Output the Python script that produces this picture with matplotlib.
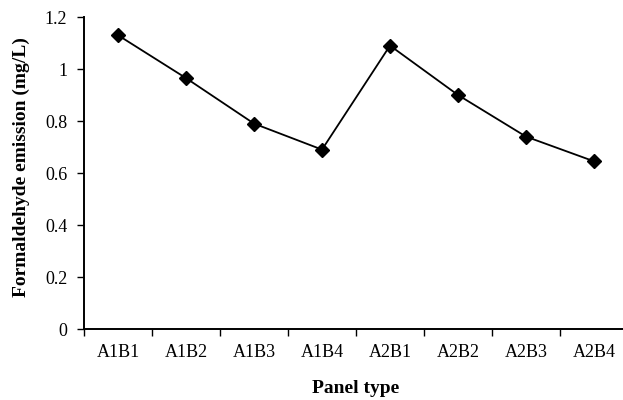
import numpy as np
import matplotlib.pyplot as plt
from matplotlib.ticker import FixedLocator, NullFormatter

# Data
panels = ["A1B1", "A1B2", "A1B3", "A1B4", "A2B1", "A2B2", "A2B3", "A2B4"]
emission = [1.13, 0.965, 0.79, 0.69, 1.09, 0.90, 0.74, 0.645]
yticks = [0, 0.2, 0.4, 0.6, 0.8, 1.0, 1.2]
ytick_labels = ["0", "0.2", "0.4", "0.6", "0.8", "1", "1.2"]

plt.rcParams["font.family"] = ["Liberation Serif", "DejaVu Serif"]

fig = plt.figure(figsize=(6.23, 4.0), dpi=100)
ax = fig.add_axes([84 / 623, 71 / 400, 544 / 623, 312 / 400])

x = np.arange(len(panels))
ax.plot(x, emission, color="black", linewidth=1.3, marker="D",
        markersize=7.5, markerfacecolor="black", markeredgecolor="black")

ax.set_xlim(-0.5, len(panels) - 0.5)
ax.set_ylim(0, 1.2)

# category labels centred, tick marks on the boundaries
ax.set_xticks(x)
ax.set_xticklabels(panels, fontsize=13)
ax.tick_params(axis="x", which="major", length=0, pad=11)
ax.xaxis.set_minor_locator(FixedLocator(np.arange(-0.5, len(panels), 1.0)))
ax.xaxis.set_minor_formatter(NullFormatter())
ax.tick_params(axis="x", which="minor", length=5, width=1, direction="out")

ax.set_yticks(yticks)
ax.set_yticklabels(ytick_labels, fontsize=13)
ax.tick_params(axis="y", length=5, width=1, direction="out", pad=7)

for side in ["top", "right"]:
    ax.spines[side].set_visible(False)
ax.spines["left"].set_linewidth(1.4)
ax.spines["bottom"].set_linewidth(1.4)

ax.set_xlabel("Panel type", fontsize=14, fontweight="bold")
ax.set_ylabel("Formaldehyde emission (mg/L)", fontsize=14, fontweight="bold")
ax.xaxis.set_label_coords(0.5, -0.163)
ax.yaxis.set_label_coords(-0.1, 0.52)

fig.savefig("out.png", dpi=100)
